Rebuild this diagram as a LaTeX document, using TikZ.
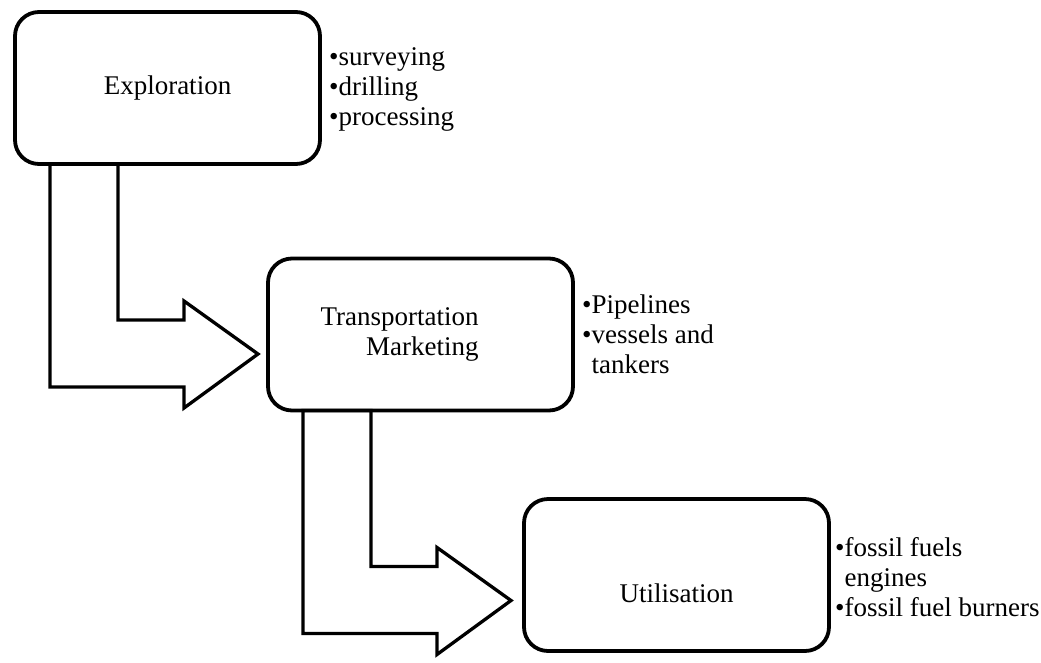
\documentclass[tikz,border=0pt]{standalone}
\usepackage{fontspec}
\setmainfont{Liberation Serif}
\usetikzlibrary{calc}
\def\bentshape{(35,0) -- (35,223) -- (169,223) -- (169,244) -- (243,190) -- (169,137) -- (169,156) -- (103,156) -- (103,0) -- cycle}
\tikzset{stage/.style={draw, line width=3.8pt, rounded corners=24pt, minimum width=305pt, minimum height=152pt, outer sep=0pt, inner sep=0pt},
    stagetext/.style={font=\fontsize{27}{30}\selectfont, inner sep=0pt},
    notes/.style={font=\fontsize{27}{30}\selectfont, anchor=west, inner sep=0pt},
    bentarrow/.style={draw, line width=3.3pt, line join=miter}}

\begin{document}
\begin{tikzpicture}[x=1pt, y=-1pt]
 \useasboundingbox (0,0) rectangle (1041,662);

 \node[stage] (explor) at (167.5,88) {};
 \node[stagetext] (explorlabel) at (explor) {Exploration};
 \node[notes] (explornotes) at ($(explor.east)+(9,1)$) {\begin{tabular}{@{}l@{}l@{}}•&surveying\\•&drilling\\•&processing\end{tabular}};

 \node[stage] (transp) at (420.5,334.5) {};
 \node[stagetext, align=right] (transplabel) at ($(transp)+(-21,0)$) {Transportation\\Marketing};
 \node[notes] (transpnotes) at ($(transp.east)+(9,3)$) {\begin{tabular}{@{}l@{}l@{}}•&Pipelines\\•&vessels and\\&tankers\end{tabular}};

 \node[stage] (utilis) at (676.5,575) {};
 \node[stagetext] (utilislabel) at ($(utilis)+(0,18)$) {Utilisation};
 \node[notes] (utilisnotes) at ($(utilis.east)+(6,5)$) {\begin{tabular}{@{}l@{}l@{}}•&fossil fuels\\&engines\\•&fossil fuel burners\end{tabular}};

 \draw[bentarrow, shift={(explor.south west)}] \bentshape;
 \draw[bentarrow, shift={(transp.south west)}] \bentshape;
 % \node[anchor=south] at (current bounding box.north) {};

\end{tikzpicture}
\end{document}
